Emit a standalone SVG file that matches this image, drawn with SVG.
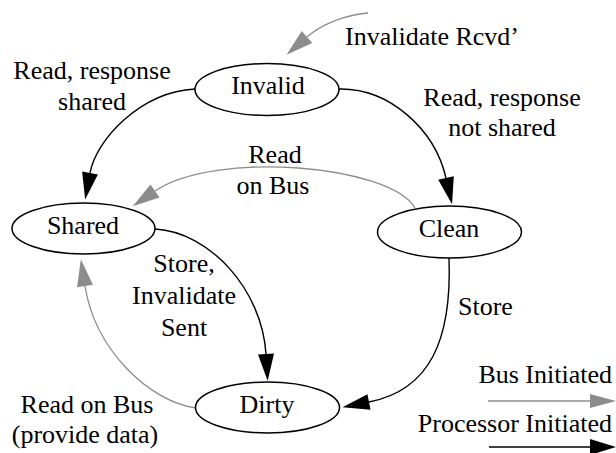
<svg xmlns="http://www.w3.org/2000/svg" width="616" height="453" viewBox="0 0 616 453" font-family="'Liberation Serif', 'Times New Roman', 'DejaVu Serif', serif" font-size="26">
  <style>
    text { font-family: 'Liberation Serif', 'Times New Roman', 'DejaVu Serif', serif; font-size: 26px; fill: #000; }
    .mid { text-anchor: middle; }
    .end { text-anchor: end; }
    .state { fill: #fff; stroke: #000; stroke-width: 1.5; }
    .proc { fill: none; stroke: #000; stroke-width: 1.4; marker-end: url(#headProc); }
    .bus { fill: none; stroke: #8c8c8c; stroke-width: 1.3; marker-end: url(#headBus); }
  </style>
  <defs>
    <marker id="headProc" markerUnits="userSpaceOnUse" markerWidth="30" markerHeight="20" viewBox="0 -10 30 20" refX="0" refY="0" orient="auto" overflow="visible">
      <path d="M0,-8 L27,0 L0,8 z" fill="#000"/>
    </marker>
    <marker id="headBus" markerUnits="userSpaceOnUse" markerWidth="30" markerHeight="20" viewBox="0 -10 30 20" refX="0" refY="0" orient="auto" overflow="visible">
      <path d="M0,-8 L27,0 L0,8 z" fill="#8c8c8c"/>
    </marker>
  </defs>

  <!-- transitions -->
  <g id="connectors">
    <path class="bus" d="M368,13 C345,15 322,24 307,37"/>
    <path class="proc" d="M195,89 C140,92 96,140 90,173"/>
    <path class="proc" d="M339,89 C390,88 435,130 446,178"/>
    <path class="bus" d="M415,208 C390,165 215,150 155,191"/>
    <path class="proc" d="M155,229 C210,232 262,290 266,354"/>
    <path class="bus" d="M196,408 C150,402 95,350 85,286"/>
    <path class="proc" d="M449,258 C452,340 430,390 369,402"/>
  </g>

  <!-- edge labels -->
  <g id="labels">
    <text x="345" y="45">Invalidate Rcvd’</text>
    <text class="mid" x="92" y="79">Read, response</text>
    <text class="mid" x="92" y="110">shared</text>
    <text class="mid" x="502" y="106">Read, response</text>
    <text class="mid" x="502" y="136">not shared</text>
    <text class="mid" x="275" y="163">Read</text>
    <text class="mid" x="273" y="194">on Bus</text>
    <text class="mid" x="184" y="272">Store,</text>
    <text class="mid" x="184" y="304">Invalidate</text>
    <text class="mid" x="184" y="336">Sent</text>
    <text x="458" y="315">Store</text>
    <text class="mid" x="87" y="413">Read on Bus</text>
    <text class="mid" x="85" y="443">(provide data)</text>
  </g>

  <!-- states -->
  <g id="invalid">
    <ellipse class="state" cx="267" cy="89.5" rx="72" ry="26"/>
    <text class="mid" x="268" y="94">Invalid</text>
  </g>
  <g id="shared">
    <ellipse class="state" cx="83.5" cy="228.5" rx="71.5" ry="25.5"/>
    <text class="mid" x="83" y="234">Shared</text>
  </g>
  <g id="clean">
    <ellipse class="state" cx="449.5" cy="232" rx="72" ry="26"/>
    <text class="mid" x="449" y="237">Clean</text>
  </g>
  <g id="dirty">
    <ellipse class="state" cx="267.5" cy="407.5" rx="72" ry="25.5"/>
    <text class="mid" x="267" y="413">Dirty</text>
  </g>

  <!-- legend -->
  <g id="legend">
    <text class="end" x="612" y="383">Bus Initiated</text>
    <line x1="488" y1="401" x2="592" y2="401" stroke="#8c8c8c" stroke-width="1.3"/>
    <path d="M590,394 L616,401 L590,408 z" fill="#8c8c8c"/>
    <text class="end" x="612" y="432">Processor Initiated</text>
    <line x1="489" y1="447" x2="592" y2="447" stroke="#000" stroke-width="1.4"/>
    <path d="M590,439 L616,447 L590,455 z" fill="#000"/>
  </g>
</svg>
